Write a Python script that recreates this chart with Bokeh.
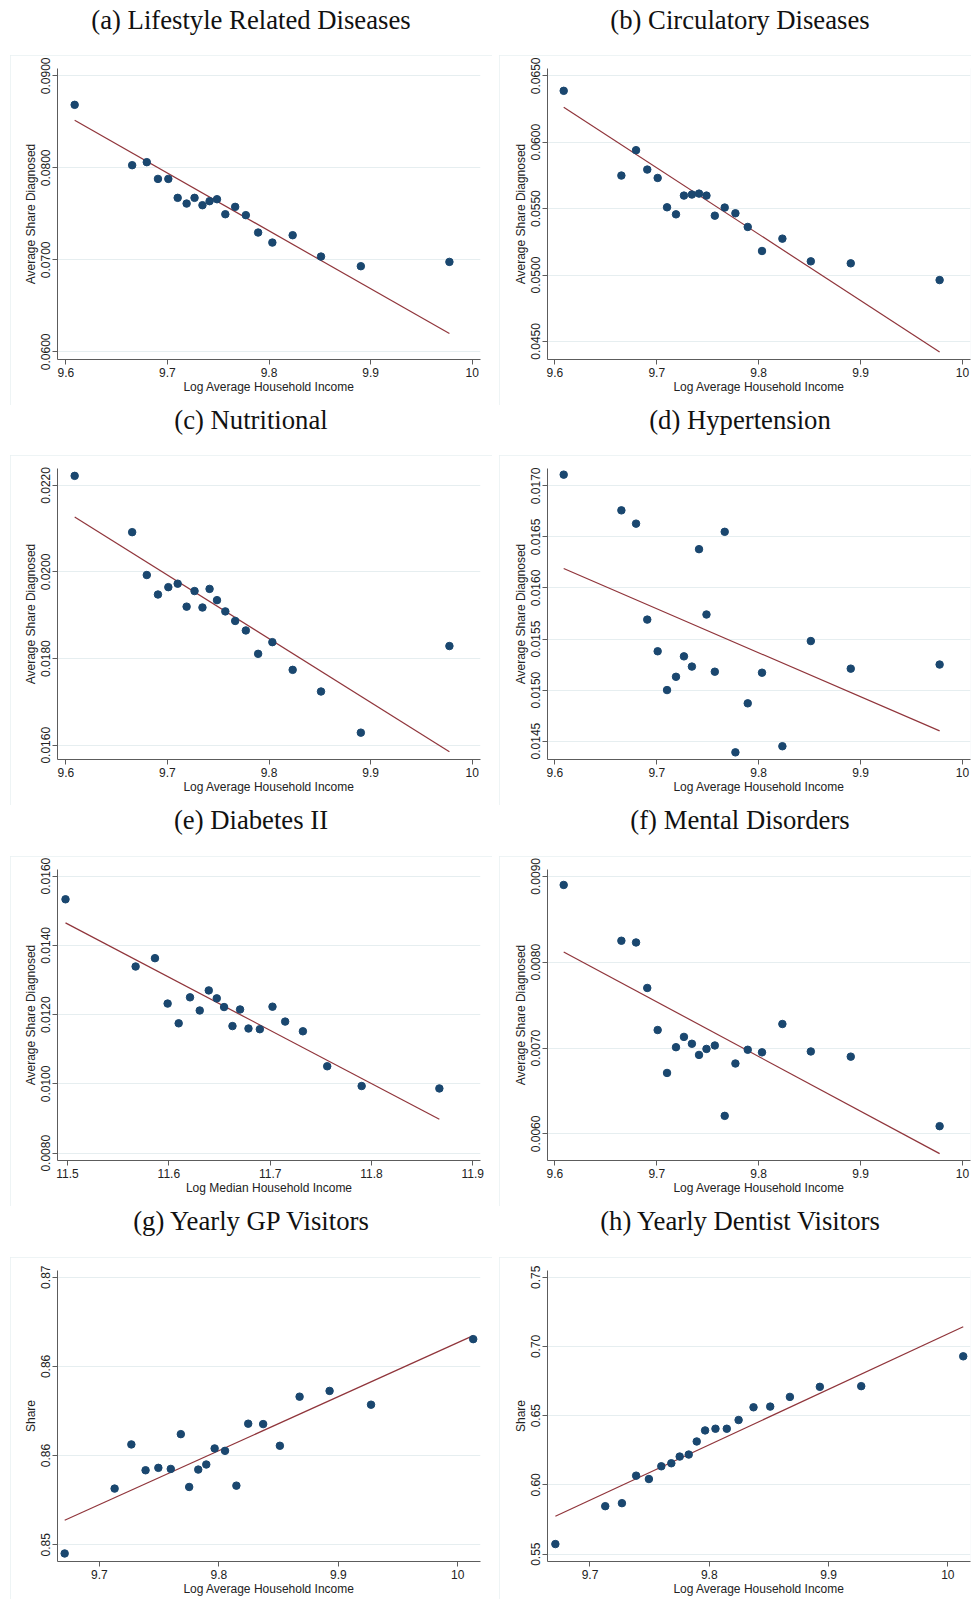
from bokeh.plotting import figure
from bokeh.models import Range1d, FixedTicker, CustomJSTickFormatter, Div
from bokeh.layouts import column, row
from bokeh.embed import file_html
from bokeh.resources import INLINE

# ---------------- data ----------------
titles = ["(a) Lifestyle Related Diseases", "(b) Circulatory Diseases",
          "(c) Nutritional", "(d) Hypertension",
          "(e) Diabetes II", "(f) Mental Disorders",
          "(g) Yearly GP Visitors", "(h) Yearly Dentist Visitors"]

x_avg = [9.6087, 9.6653, 9.6797, 9.6907, 9.7009, 9.7101, 9.7189, 9.7267, 9.7345, 9.7415,
         9.7488, 9.7570, 9.7667, 9.7772, 9.7893, 9.8033, 9.8233, 9.8512, 9.8904, 9.9776]
x_med = [11.4980, 11.5672, 11.5863, 11.5988, 11.6097, 11.6209, 11.6305, 11.6394, 11.6473, 11.6545,
         11.6628, 11.6703, 11.6786, 11.6898, 11.7023, 11.7148, 11.7323, 11.7563, 11.7903, 11.8670]
x_vis = [9.6710, 9.7128, 9.7268, 9.7387, 9.7494, 9.7598, 9.7682, 9.7752, 9.7828, 9.7895,
         9.7965, 9.8052, 9.8147, 9.8246, 9.8371, 9.8511, 9.8676, 9.8927, 9.9274, 10.0129]

y_a = [0.08685, 0.08029, 0.08062, 0.07880, 0.07880, 0.07674, 0.07612, 0.07674, 0.07594, 0.07638,
       0.07659, 0.07496, 0.07576, 0.07486, 0.07297, 0.07188, 0.07268, 0.07036, 0.06931, 0.06978]
fit_a = [0.08518, 0.06199]
y_b = [0.06387, 0.05749, 0.05940, 0.05794, 0.05731, 0.05510, 0.05457, 0.05598, 0.05606, 0.05613,
       0.05598, 0.05447, 0.05508, 0.05465, 0.05362, 0.05181, 0.05274, 0.05103, 0.05088, 0.04962]
fit_b = [0.06264, 0.04420]
y_c = [0.02222, 0.02092, 0.01993, 0.01948, 0.01965, 0.01973, 0.01920, 0.01956, 0.01918, 0.01961,
       0.01935, 0.01909, 0.01887, 0.01865, 0.01811, 0.01838, 0.01774, 0.01724, 0.01629, 0.01829]
fit_c = [0.02127, 0.01585]
y_d = [0.01711, 0.01676, 0.01663, 0.01569, 0.01538, 0.01500, 0.01513, 0.01533, 0.01523, 0.01638,
       0.01574, 0.01518, 0.01655, 0.01439, 0.01487, 0.01517, 0.01445, 0.01548, 0.01521, 0.01525]
fit_d = [0.01619, 0.01460]
y_e = [0.01533, 0.01339, 0.01363, 0.01232, 0.01175, 0.01250, 0.01212, 0.01270, 0.01247, 0.01222,
       0.01167, 0.01215, 0.01160, 0.01158, 0.01223, 0.01180, 0.01152, 0.01051, 0.00994, 0.00987]
fit_e = [0.01465, 0.00898]
y_f = [0.00890, 0.00825, 0.00823, 0.00770, 0.00721, 0.00671, 0.00701, 0.00713, 0.00705, 0.00692,
       0.00699, 0.00703, 0.00621, 0.00682, 0.00698, 0.00695, 0.00728, 0.00696, 0.00690, 0.00609]
fit_f = [0.00812, 0.00577]
y_g = [0.84935, 0.85420, 0.85750, 0.85557, 0.85575, 0.85567, 0.85827, 0.85432, 0.85562, 0.85600,
       0.85720, 0.85702, 0.85442, 0.85905, 0.85902, 0.85740, 0.86107, 0.86150, 0.86047, 0.86537]
fit_g = [0.85183, 0.86563]
y_h = [0.55726, 0.58462, 0.58680, 0.60666, 0.60424, 0.61344, 0.61562, 0.62046, 0.62191, 0.63136,
       0.63935, 0.64056, 0.64056, 0.64685, 0.65605, 0.65654, 0.66356, 0.67082, 0.67131, 0.69286]
fit_h = [0.57736, 0.71416]

xt_avg = [9.6, 9.7, 9.8, 9.9, 10.0]
xt_med = [11.5, 11.6, 11.7, 11.8, 11.9]
xt_vis = [9.7, 9.8, 9.9, 10.0]
yt_a = [0.06, 0.07, 0.08, 0.09]
yt_b = [0.045, 0.05, 0.055, 0.06, 0.065]
yt_c = [0.016, 0.018, 0.020, 0.022]
yt_d = [0.0145, 0.015, 0.0155, 0.016, 0.0165, 0.017]
yt_e = [0.008, 0.010, 0.012, 0.014, 0.016]
yt_f = [0.006, 0.007, 0.008, 0.009]
yt_g = [0.85, 0.85667, 0.86333, 0.87]
yt_h = [0.55, 0.60, 0.65, 0.70, 0.75]

lab_avg = "Log Average Household Income"
lab_med = "Log Median Household Income"
lab_diag = "Average Share Diagnosed"
lab_share = "Share"

# ---------------- styling ----------------
NAVY = "#1a476f"
MAROON = "#90353b"
GRID = "#e6eef0"
AXIS = "#5c5c5c"
SANS = "Liberation Sans"

panels = [
    dict(x=x_avg, y=y_a, fit=fit_a, xr=(9.5918, 10.0082), yr=(0.05917, 0.0908), xt=xt_avg, yt=yt_a, yd=4, xl=lab_avg, yl=lab_diag),
    dict(x=x_avg, y=y_b, fit=fit_b, xr=(9.5928, 10.0079), yr=(0.04364, 0.06555), xt=xt_avg, yt=yt_b, yd=4, xl=lab_avg, yl=lab_diag),
    dict(x=x_avg, y=y_c, fit=fit_c, xr=(9.5918, 10.0082), yr=(0.01567, 0.02239), xt=xt_avg, yt=yt_c, yd=4, xl=lab_avg, yl=lab_diag),
    dict(x=x_avg, y=y_d, fit=fit_d, xr=(9.5928, 10.0079), yr=(0.01432, 0.01717), xt=xt_avg, yt=yt_d, yd=4, xl=lab_avg, yl=lab_diag),
    dict(x=x_med, y=y_e, fit=fit_e, xr=(11.4901, 11.9076), yr=(0.00779, 0.01619), xt=xt_med, yt=yt_e, yd=4, xl=lab_med, yl=lab_diag),
    dict(x=x_avg, y=y_f, fit=fit_f, xr=(9.5928, 10.0079), yr=(0.00569, 0.00908), xt=xt_avg, yt=yt_f, yd=4, xl=lab_avg, yl=lab_diag),
    dict(x=x_vis, y=y_g, fit=fit_g, xr=(9.6650, 10.0190), yr=(0.84875, 0.8705), xt=xt_vis, yt=yt_g, yd=2, xl=lab_avg, yl=lab_share),
    dict(x=x_vis, y=y_h, fit=fit_h, xr=(9.6644, 10.0190), yr=(0.54467, 0.75484), xt=xt_vis, yt=yt_h, yd=2, xl=lab_avg, yl=lab_share),
]

LEFT_W, RIGHT_W, GAP = 482, 472, 7
DIV_H = [55, 50, 51, 51]
FIG_H = [350, 350, 350, 342]
TITLE_PAD = [5, 0, 0, 0]


def make_panel(d, left_col, height):
    if left_col:
        w, bl, br = LEFT_W, 47, 12
    else:
        w, bl, br = RIGHT_W, 48, 1
    bottom = height - 13 - 291
    p = figure(width=w, height=height, x_range=Range1d(*d["xr"]), y_range=Range1d(*d["yr"]),
               output_backend="svg", toolbar_location=None,
               min_border_left=bl, min_border_right=br, min_border_top=13, min_border_bottom=bottom,
               background_fill_color="white", border_fill_color="white", outline_line_color=None)
    p.styles = {"outline": "1px solid #e9f0f2", "outline-offset": "-1px"}
    p.xgrid.visible = False
    p.ygrid.grid_line_color = GRID
    p.ygrid.grid_line_width = 1

    p.xaxis.ticker = FixedTicker(ticks=d["xt"])
    p.yaxis.ticker = FixedTicker(ticks=d["yt"])
    p.xaxis.formatter = CustomJSTickFormatter(code="return String(Math.round(tick*10)/10);")
    p.yaxis.formatter = CustomJSTickFormatter(code="return tick.toFixed(%d);" % d["yd"])
    p.yaxis.major_label_orientation = "vertical"
    p.xaxis.axis_label = d["xl"]
    p.yaxis.axis_label = d["yl"]
    for ax in (p.xaxis, p.yaxis):
        ax.axis_line_color = AXIS
        ax.axis_line_width = 1
        ax.major_tick_line_color = AXIS
        ax.major_tick_out = 5
        ax.major_tick_in = 0
        ax.minor_tick_line_color = None
        ax.major_label_text_font = SANS
        ax.major_label_text_font_size = "12px"
        ax.major_label_text_color = "#222222"
        ax.axis_label_text_font = SANS
        ax.axis_label_text_font_size = "12px"
        ax.axis_label_text_font_style = "normal"
        ax.axis_label_text_color = "#222222"
    p.xaxis.major_label_standoff = 3
    p.xaxis.axis_label_standoff = 0
    p.yaxis.major_label_standoff = 2
    p.yaxis.axis_label_standoff = 1

    xs = d["x"]
    p.line([xs[0], xs[-1]], d["fit"], line_color=MAROON, line_width=1.2)
    p.scatter(xs, d["y"], size=7.5, fill_color=NAVY, line_color=NAVY)
    return p


def make_title(text, left_col, r):
    w = LEFT_W if left_col else RIGHT_W
    pad_left = 0 if left_col else 10
    html = ('<div style="box-sizing:border-box;width:%dpx;font-family:\'Liberation Serif\',\'Times New Roman\',serif;'
            'font-size:26.7px;line-height:30px;text-align:center;color:#111;padding-top:%dpx;padding-left:%dpx;'
            'white-space:nowrap;">%s</div>'
            % (w, TITLE_PAD[r], pad_left, text))
    return Div(text=html, width=w, height=DIV_H[r], margin=(0, 0, 0, 0))


rows = []
for r in range(4):
    cells = []
    for c in range(2):
        i = r * 2 + c
        t = make_title(titles[i], c == 0, r)
        f = make_panel(panels[i], c == 0, FIG_H[r])
        cells.append(column(t, f, spacing=0))
    rows.append(row(*cells, spacing=GAP))

layout = column(*rows, spacing=0, margin=(0, 0, 0, 10))

open("out.html", "w").write(file_html(layout, INLINE))
